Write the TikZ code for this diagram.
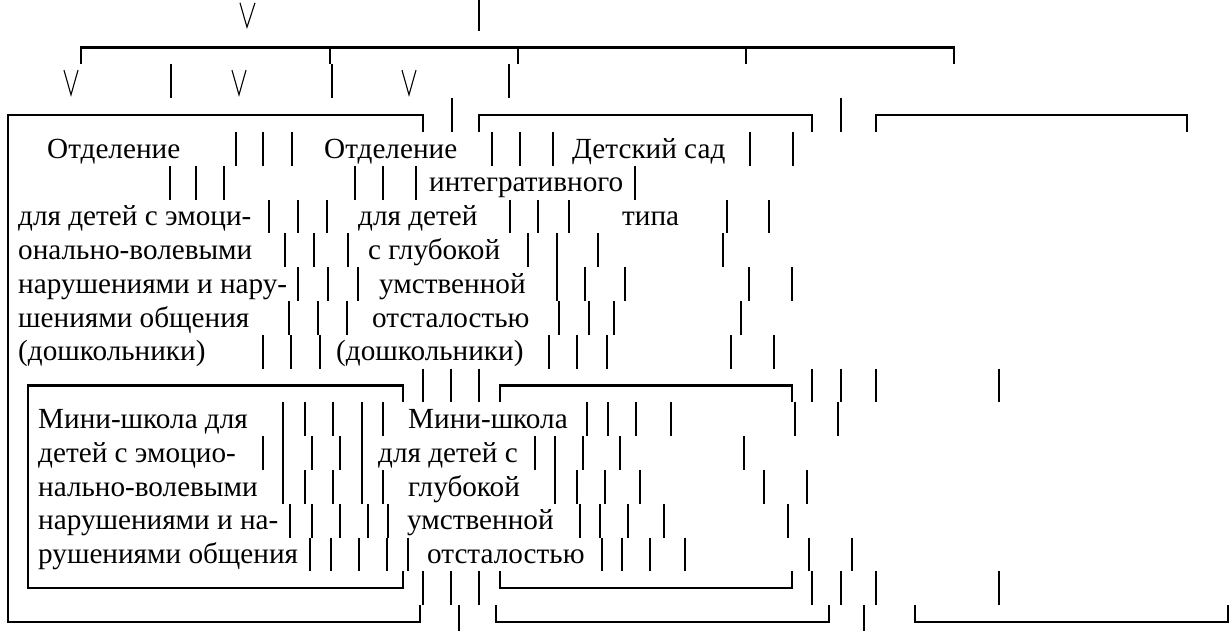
\documentclass[tikz,border=0pt]{standalone}
\usepackage{fontspec}
\setmainfont{Liberation Serif}
\usepackage{tikz}

\begin{document}
\begin{tikzpicture}[x=1pt, y=-33.8pt,
  vbar/.style={line width=2.9pt},
  boxline/.style={line width=2.3pt},
  vee/.style={line width=1.1pt},
  lbl/.style={anchor=base west, inner sep=0pt, font=\fontsize{29.2}{33.5}\selectfont}]
  \useasboundingbox (0,0.095) rectangle (1232,18.76);
  %% top rows
  \draw[vee] (240,0.18) -- (247,0.9) -- (255,0.18);
  \draw[vbar] (479,0) -- (479,1);
  \draw[boxline] (81,2) -- (81,1.5) -- (954,1.5) -- (954,2);
  \foreach \x in {330,518,746} \draw[boxline] (\x,1.5) -- (\x,2);
  \foreach \x in {71,239,409} \draw[vee] (\x-7,2.17) -- (\x,2.9) -- (\x+7,2.17);
  \foreach \x in {171,332,509} \draw[vbar] (\x,2) -- ++(0,1);
  \foreach \x in {452,841} \draw[vbar] (\x,3) -- ++(0,1);
  %% outer boxes
  \draw[boxline] (423,4) -- (423,3.5) -- (8,3.5) -- (8,18.5) -- (420,18.5) -- (420,18);
  \draw[boxline] (479,4) -- (479,3.5) -- (812,3.5) -- (812,4);
  \draw[boxline] (876,4) -- (876,3.5) -- (1187,3.5) -- (1187,4);
  \draw[boxline] (496,18) -- (496,18.5) -- (829,18.5) -- (829,18);
  \draw[boxline] (915,18) -- (915,18.5) -- (1228,18.5) -- (1228,18);
  %% inner boxes
  \draw[boxline] (403,12) -- (403,11.5) -- (28,11.5) -- (28,17.5) -- (403,17.5) -- (403,17);
  \draw[boxline] (500,12) -- (500,11.5) -- (792,11.5) -- (792,12);
  \draw[boxline] (500,17) -- (500,17.5) -- (792,17.5) -- (792,17);
  %% bars, row by row
  \foreach \x in {236,263,292,492,520,553,750,793} \draw[vbar] (\x,4) -- ++(0,1);
  \foreach \x in {170,196,224,355,383,416,635} \draw[vbar] (\x,5) -- ++(0,1);
  \foreach \x in {269,298,327,510,538,569,727,769} \draw[vbar] (\x,6) -- ++(0,1);
  \foreach \x in {285,314,348,528,557,598,723} \draw[vbar] (\x,7) -- ++(0,1);
  \foreach \x in {298,328,358,557,585,625,749,792} \draw[vbar] (\x,8) -- ++(0,1);
  \foreach \x in {289,318,347,559,589,614,741} \draw[vbar] (\x,9) -- ++(0,1);
  \foreach \x in {263,291,320,549,577,607,731,774} \draw[vbar] (\x,10) -- ++(0,1);
  \foreach \x in {423,451,479,812,841,876,999} \draw[vbar] (\x,11) -- ++(0,1);
  \foreach \x in {283,305,333,362,383,587,608,636,671,795,838} \draw[vbar] (\x,12) -- ++(0,1);
  \foreach \x in {263,283,312,340,362,535,555,583,620,744} \draw[vbar] (\x,13) -- ++(0,1);
  \foreach \x in {283,305,333,362,383,555,577,605,640,764,807} \draw[vbar] (\x,14) -- ++(0,1);
  \foreach \x in {290,312,340,368,388,580,600,628,664,788} \draw[vbar] (\x,15) -- ++(0,1);
  \foreach \x in {310,331,359,387,408,602,622,650,685,809,852} \draw[vbar] (\x,16) -- ++(0,1);
  \foreach \x in {423,451,479,812,841,876,999} \draw[vbar] (\x,17) -- ++(0,1);
  \foreach \x in {459,864} \draw[vbar] (\x,18) -- ++(0,1);
  %% texts
  \node[lbl] (otd1) at (47,4.77) {Отделение};
  \node[lbl] (otd2) at (324,4.77) {Отделение};
  \node[lbl] (sad) at (572,4.77) {Детский сад};
  \node[lbl] (sad2) at (429,5.77) {интегративного};
  \node[lbl] (otd1c) at (18,6.77) {для детей с эмоци-};
  \node[lbl] (otd2c) at (358,6.77) {для детей};
  \node[lbl] (sad3) at (622,6.77) {типа};
  \node[lbl] (otd1d) at (18,7.77) {онально-волевыми};
  \node[lbl] (otd2d) at (368,7.77) {с глубокой};
  \node[lbl] (otd1e) at (18,8.77) {нарушениями и нару-};
  \node[lbl] (otd2e) at (379,8.77) {умственной};
  \node[lbl] (otd1f) at (18,9.77) {шениями общения};
  \node[lbl] (otd2f) at (372,9.77) {отсталостью};
  \node[lbl] (otd1g) at (18,10.77) {(дошкольники)};
  \node[lbl] (otd2g) at (336,10.77) {(дошкольники)};
  \node[lbl] (mini1) at (38,12.77) {Мини-школа для};
  \node[lbl] (mini2) at (408,12.77) {Мини-школа};
  \node[lbl] (mini1b) at (38,13.77) {детей с эмоцио-};
  \node[lbl] (mini2b) at (378,13.77) {для детей с};
  \node[lbl] (mini1c) at (38,14.77) {нально-волевыми};
  \node[lbl] (mini2c) at (408,14.77) {глубокой};
  \node[lbl] (mini1d) at (38,15.77) {нарушениями и на-};
  \node[lbl] (mini2d) at (407,15.77) {умственной};
  \node[lbl] (mini1e) at (38,16.77) {рушениями общения};
  \node[lbl] (mini2e) at (427,16.77) {отсталостью};
\end{tikzpicture}
\end{document}
